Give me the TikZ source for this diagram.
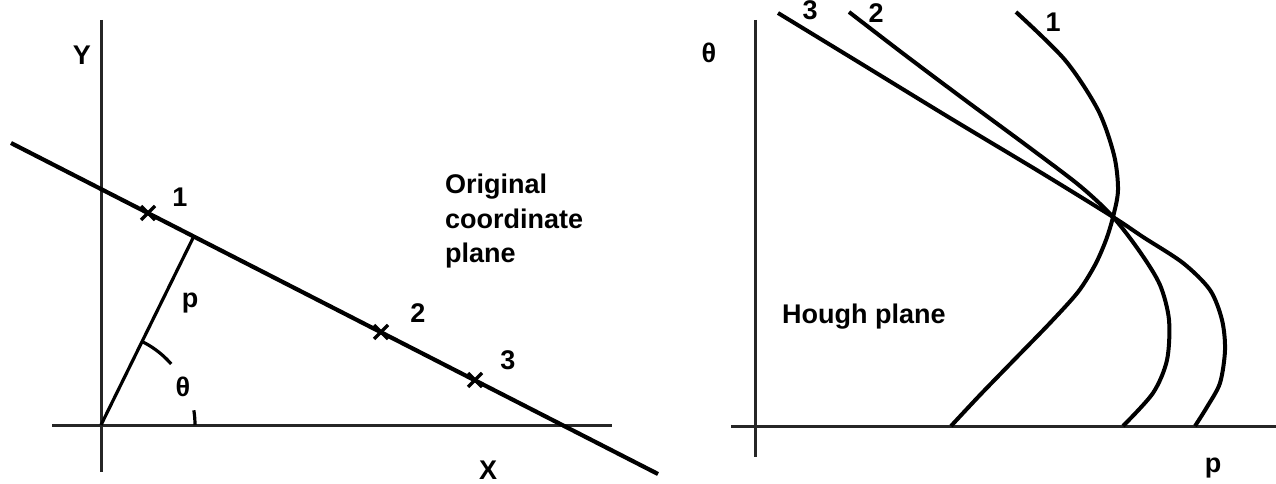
\documentclass[tikz,border=0pt]{standalone}
\usepackage{fontspec}
\setmainfont{Liberation Sans}
\begin{document}
\begin{tikzpicture}[x=1pt,y=-1pt,
  axis/.style={line width=3pt, draw=black!85},
  mainline/.style={line width=4.2pt, draw=black},
  curve/.style={line width=4pt, draw=black, line join=round},
  thin/.style={line width=3.2pt, draw=black},
  lbl/.style={font=\fontsize{27}{32}\selectfont\bfseries, inner sep=0pt},
  xmark/.style={line width=3.4pt, draw=black}]
\useasboundingbox (0,0) rectangle (1276,484);
% ---------- left panel ----------
\coordinate (Ytop) at (101,20);
\coordinate (Ybot) at (101,472);
\coordinate (Xl) at (52,425);
\coordinate (Xr) at (612,425);
\coordinate (O) at (101,425);
\coordinate (Ls) at (11,143);
\coordinate (Le) at (658,474);
\coordinate (F) at (194,236);
\draw[axis] (Ytop) -- (Ybot);
\draw[axis] (Xl) -- (Xr);
\draw[mainline] (Ls) -- (Le);
\draw[thin] (O) -- (F);
\draw[thin] plot[domain=41:63,samples=20] ({101+93*cos(\x)},{425-93*sin(\x)});
\draw[thin] plot[domain=0:9,samples=6] ({101+94*cos(\x)},{425-94*sin(\x)});
\coordinate (c1) at (148,213);
\coordinate (c2) at (381,332);
\coordinate (c3) at (475,380);
\foreach \c in {c1,c2,c3}{
  \draw[xmark] (\c) ++(-7,-7) -- ++(14,14);
  \draw[xmark] (\c) ++(-7,7) -- ++(14,-14);
}
\node[lbl] (ylab) at (82,55) {Y};
\node[lbl] (xlab) at (488,470) {X};
\node[lbl] (l1) at (180,197) {1};
\node[lbl] (l2) at (418,313) {2};
\node[lbl] (l3) at (508,360) {3};
\node[lbl] (plab) at (190,303) {p};
\node[lbl] (tlab) at (183,387) {θ};
\node[lbl, anchor=base west] (orig1) at (445,193) {Original};
\node[lbl, anchor=base west] (orig2) at (445,228) {coordinate};
\node[lbl, anchor=base west] (orig3) at (445,262) {plane};
% ---------- right panel ----------
\coordinate (Vtop) at (755,20);
\coordinate (Vbot) at (755,457);
\coordinate (Hl) at (731,426);
\coordinate (Hr) at (1276,426);
\draw[axis] (Vtop) -- (Vbot);
\draw[axis] (Hl) -- (Hr);
\draw[curve] plot[smooth] coordinates {(1016,12) (1065,60) (1098,110) (1114,155) (1118,190) (1113,217) (1106,240) (1095,265) (1078,292) (1050,323) (1014,360) (980,395) (951,426)};
\draw[curve] plot[smooth] coordinates {(849,12) (905,55) (965,100) (1030,148) (1080,186) (1113,217) (1140,252) (1160,285) (1169,320) (1167,360) (1153,393) (1123,426)};
\draw[curve] plot[smooth] coordinates {(778,13) (860,63) (950,118) (1040,172) (1113,217) (1143,237) (1183,263) (1210,290) (1222,320) (1225,350) (1220,383) (1207,407) (1195,426)};
\node[lbl] (thetaR) at (709,53) {θ};
\node[lbl] (r3) at (810,10) {3};
\node[lbl] (r2) at (876,13) {2};
\node[lbl] (r1) at (1053,22) {1};
\node[lbl, anchor=base west] (hough) at (782,323) {Hough plane};
\node[lbl] (rholab) at (1213,468) {p};
\end{tikzpicture}
\end{document}
